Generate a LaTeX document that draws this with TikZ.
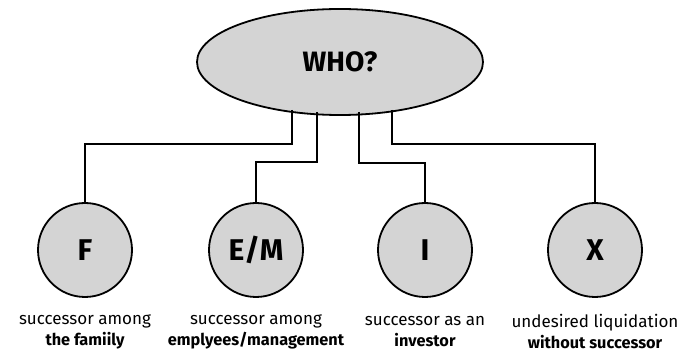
\documentclass[tikz,border=0pt]{standalone}
\usepackage{fontspec}
\setmainfont{Fira Sans}
\usetikzlibrary{shapes.geometric}
\definecolor{nodegray}{HTML}{D4D4D4}
\begin{document}
\begin{tikzpicture}[x=1pt,y=-1pt,
  wire/.style={line width=1.8pt,line join=miter},
  ovalbox/.style={ellipse,draw,line width=1.8pt,fill=nodegray,minimum width=286pt,minimum height=106pt,inner sep=0pt,font=\bfseries\fontsize{28}{34}\selectfont},
  roundbox/.style={circle,draw,line width=1.8pt,fill=nodegray,minimum size=94pt,inner sep=0pt,font=\bfseries\fontsize{30}{34}\selectfont},
  caption/.style={align=center,font=\fontsize{17}{21}\selectfont,inner sep=0pt}]
\useasboundingbox (0,0) rectangle (678,355);
\node[ovalbox] (who) at (340,62) {WHO?};
\node[roundbox] (f) at (85,250) {F};
\node[roundbox] (em) at (256,250) {E/M};
\node[roundbox] (i) at (425,250) {I};
\node[roundbox] (x) at (595,250) {X};
\coordinate (w1) at (292,110);
\coordinate (w2) at (317,112);
\coordinate (w3) at (359,112);
\coordinate (w4) at (392,110);
\draw[wire] (w1) |- (85,144) -- (f.north);
\draw[wire] (w2) |- (256,162) -- (em.north);
\draw[wire] (w3) |- (425,163) -- (i.north);
\draw[wire] (w4) |- (595,144) -- (x.north);
\node[caption] (cf) at (85,332) {successor among\\{\fontsize{16.3}{21}\selectfont\bfseries the famiily}};
\node[caption] (cem) at (256,332) {successor among\\{\fontsize{16.3}{21}\selectfont\bfseries emplyees/management}};
\node[caption] (ci) at (425,332) {successor as an\\{\fontsize{16.3}{21}\selectfont\bfseries investor}};
\node[caption] (cx) at (595,332) {undesired liquidation\\{\fontsize{16.3}{21}\selectfont\bfseries without successor}};
\end{tikzpicture}
\end{document}
